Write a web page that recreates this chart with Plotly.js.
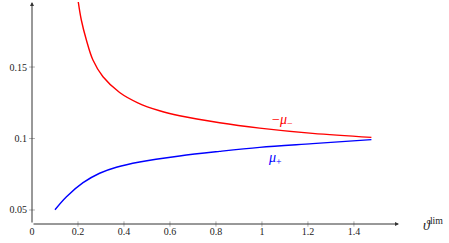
<!DOCTYPE html>
<html><head><meta charset="utf-8">
<script src="https://cdn.plot.ly/plotly-3.0.1.min.js"></script>
<style>html,body{margin:0;padding:0;background:#fff}#c{width:449px;height:243px}</style>
</head><body><div id="c"></div>
<script>
const redX = [0.2, 0.2145, 0.2365, 0.265, 0.3087, 0.381, 0.46, 0.555, 0.642, 0.816, 0.99, 1.22, 1.476];
const redY = [0.1969, 0.1829, 0.1689, 0.1549, 0.1432, 0.1322, 0.1250, 0.1194, 0.1159, 0.1110, 0.1073, 0.1036, 0.1008];
const blueX = [0.1, 0.15, 0.222, 0.294, 0.367, 0.468, 0.642, 0.816, 0.99, 1.22, 1.476];
const blueY = [0.0502, 0.0593, 0.0691, 0.0757, 0.0799, 0.0836, 0.0878, 0.0910, 0.0938, 0.0964, 0.0992];
const xTicks = [0, 0.2, 0.4, 0.6, 0.8, 1, 1.2, 1.4];
const xTickText = ['0', '0.2', '0.4', '0.6', '0.8', '1', '1.2', '1.4'];
const yTicks = [0.05, 0.1, 0.15];
const yTickText = ['0.05', '0.1', '0.15'];

const X0 = 0, X1 = 1.596, Y0 = 0.0402, Y1 = 0.1955;
const FAM = '"Liberation Serif", "DejaVu Serif", serif';
const font = {family: FAM, size: 10, color: '#222'};

const traces = [
  {x: redX, y: redY, mode: 'lines', line: {color: '#ff0000', width: 1.4, shape: 'spline', smoothing: 1}, hoverinfo: 'skip'},
  {x: blueX, y: blueY, mode: 'lines', line: {color: '#0000ff', width: 1.4, shape: 'spline', smoothing: 1}, hoverinfo: 'skip'}
];

const shapes = [];
xTicks.forEach(v => { if (v > 0) shapes.push({type: 'line', xref: 'x', yref: 'paper', x0: v, x1: v, y0: -0.012, y1: 0.012, line: {color: '#999', width: 0.8}}); });
yTicks.forEach(v => shapes.push({type: 'line', xref: 'paper', yref: 'y', x0: -0.008, x1: 0.008, y0: v, y1: v, line: {color: '#999', width: 0.8}}));

const annotations = [
  {x: X1, y: Y0, ax: X0, ay: Y0, xref: 'x', yref: 'y', axref: 'x', ayref: 'y', showarrow: true, arrowhead: 2, arrowsize: 0.8, arrowwidth: 1, arrowcolor: '#333', text: ''},
  {x: X0, y: Y1, ax: X0, ay: Y0, xref: 'x', yref: 'y', axref: 'x', ayref: 'y', showarrow: true, arrowhead: 2, arrowsize: 0.8, arrowwidth: 1, arrowcolor: '#333', text: ''},
  {x: 1.09, y: 0.1125, xref: 'x', yref: 'y', showarrow: false, text: '−<i>μ</i><sub>−</sub>', font: {family: FAM, size: 14, color: '#ff0000'}},
  {x: 1.055, y: 0.0862, xref: 'x', yref: 'y', showarrow: false, text: '<i>μ</i><sub>+</sub>', font: {family: FAM, size: 14, color: '#0000ff'}},
  {x: 1.125, y: -0.05, xref: 'paper', yref: 'paper', yanchor: 'bottom', showarrow: false, text: '<i>ϑ</i><sup>lim</sup>', font: {family: FAM, size: 14, color: '#222'}}
];

const layout = {
  width: 449, height: 243,
  margin: {l: 32, r: 50, t: 2, b: 19, pad: 0},
  paper_bgcolor: '#fff', plot_bgcolor: '#fff',
  showlegend: false,
  font: font,
  xaxis: {range: [X0, X1], tickvals: xTicks, ticktext: xTickText, showgrid: false, zeroline: false, showline: false, ticks: '', tickfont: font, fixedrange: true},
  yaxis: {range: [Y0, Y1], tickvals: yTicks, ticktext: yTickText, showgrid: false, zeroline: false, showline: false, ticks: '', tickfont: font, ticklabelstandoff: 4, fixedrange: true},
  shapes: shapes,
  annotations: annotations
};
Plotly.newPlot('c', traces, layout, {staticPlot: true, displayModeBar: false});
</script></body></html>
